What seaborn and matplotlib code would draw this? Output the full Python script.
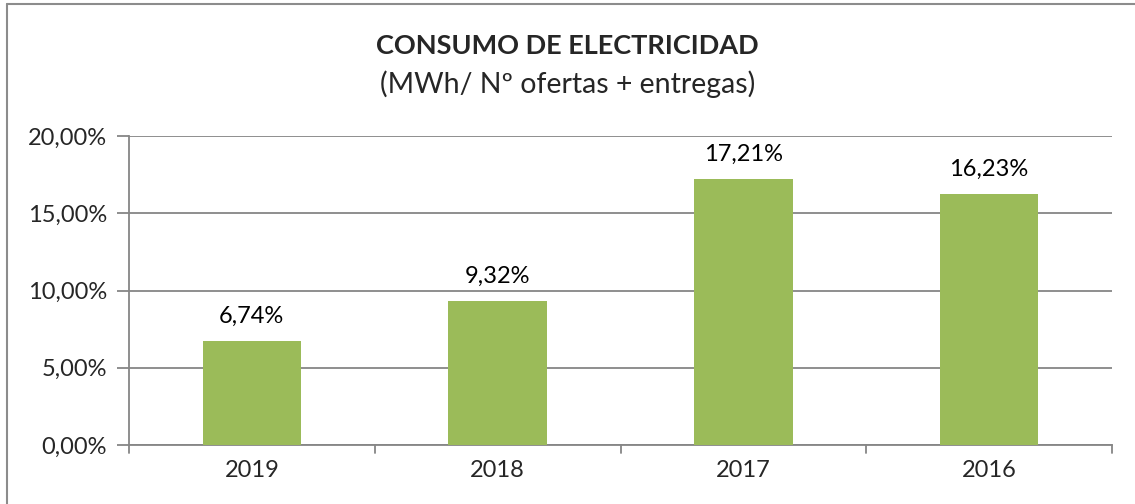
import numpy as np
import pandas as pd
import seaborn as sns
import matplotlib.pyplot as plt
from matplotlib.lines import Line2D
from matplotlib.ticker import FuncFormatter

# Data
years = ['2019', '2018', '2017', '2016']
consumo = [6.74, 9.32, 17.21, 16.23]
y_ticks = [0, 5, 10, 15, 20]

df = pd.DataFrame({'year': years, 'consumo': consumo})

sns.set_style('white')
plt.rcParams['font.family'] = ['Lato', 'DejaVu Sans']

fig = plt.figure(figsize=(11.35, 5.04), dpi=100)
ax = fig.add_axes([129 / 1135, 1 - 445 / 504, (1112 - 129) / 1135, (445 - 136) / 504])

sns.barplot(data=df, x='year', y='consumo', color='#9BBB59', width=0.4,
            saturation=1, linewidth=0, ax=ax, zorder=3)

grid_col = '#868686'
ax.set_ylim(0, 20)
ax.set_xlim(-0.5, 3.5)
ax.set_yticks(y_ticks)
ax.yaxis.set_major_formatter(FuncFormatter(lambda v, p: f'{v:.2f}%'.replace('.', ',')))
ax.grid(axis='y', color=grid_col, linewidth=1.3, zorder=0)
ax.set_axisbelow(True)

for side in ['top', 'right']:
    ax.spines[side].set_visible(False)
for side in ['left', 'bottom']:
    ax.spines[side].set_color(grid_col)
    ax.spines[side].set_linewidth(1.3)

ax.tick_params(axis='y', length=9, width=1.3, color=grid_col, labelsize=17, pad=7, left=True)
ax.tick_params(axis='x', length=0, labelsize=17, pad=11)
ax.set_xlabel('')
ax.set_ylabel('')

# tick marks between categories
for b in np.arange(-0.5, len(years)):
    ax.plot([b, b], [0, -0.5], color=grid_col, linewidth=1.3, clip_on=False, zorder=4)

# value labels
for i, v in enumerate(consumo):
    ax.text(i, v + 0.9, f'{v:.2f}%'.replace('.', ','), ha='center', va='bottom',
            fontsize=17, color='black')

fig.text(0.5, 1 - 46 / 504, 'CONSUMO DE ELECTRICIDAD', ha='center', va='center',
         fontsize=19.5, fontweight='bold')
fig.text(0.5, 1 - 84 / 504, '(MWh/ Nº ofertas + entregas)', ha='center', va='center',
         fontsize=20.5)

# outer frame (left and top only visible)
fig.add_artist(Line2D([7 / 1135, 7 / 1135], [0, 1 - 4 / 504], color='#8C8C8C',
                      linewidth=1.5, transform=fig.transFigure))
fig.add_artist(Line2D([7 / 1135, 1], [1 - 4 / 504, 1 - 4 / 504], color='#8C8C8C',
                      linewidth=1.5, transform=fig.transFigure))

fig.savefig('out.png', dpi=100)
